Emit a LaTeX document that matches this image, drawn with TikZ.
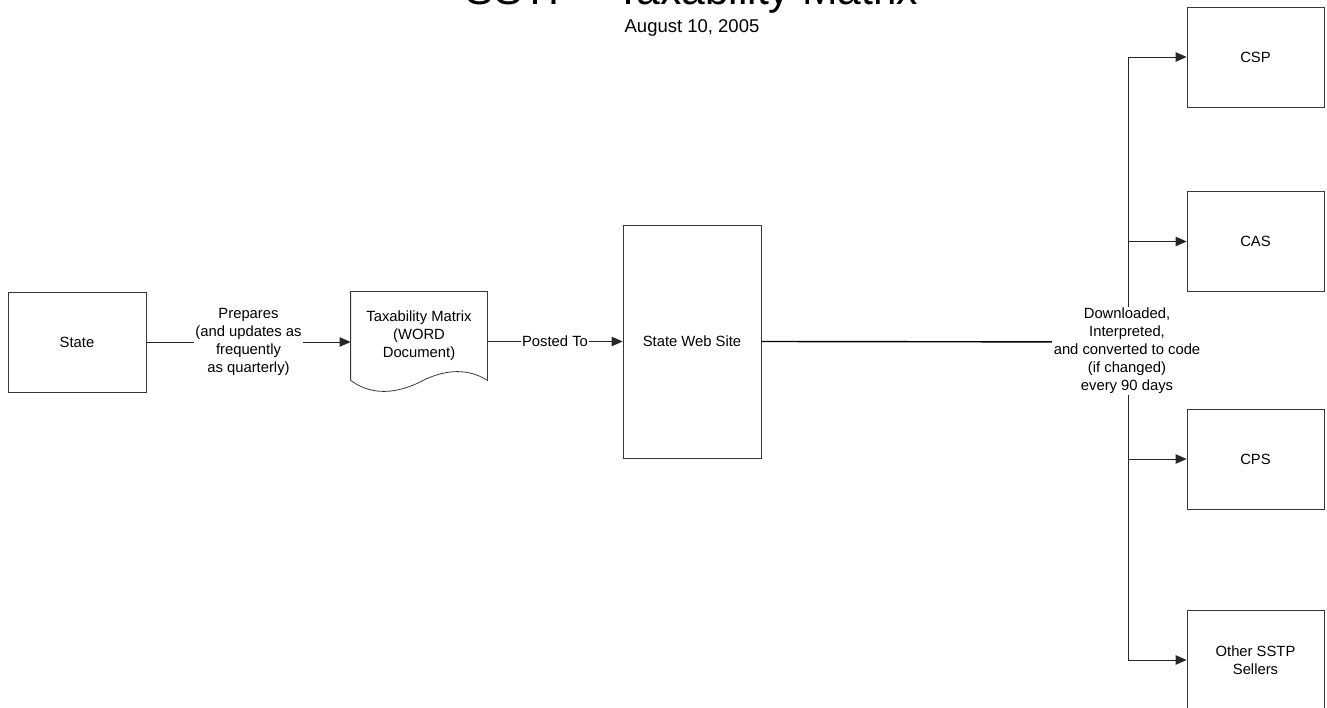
\documentclass[tikz,border=0pt]{standalone}
\usepackage{fontspec}
\setmainfont{Liberation Sans}
\usetikzlibrary{arrows.meta}
\begin{document}
\begin{tikzpicture}[x=1pt,y=-1pt,
  box/.style={draw=black!78, line width=0.8pt, minimum width=137pt, minimum height=100pt, inner sep=0pt, font=\fontsize{14.8}{18}\selectfont, align=center},
  conn/.style={draw=black!85, line width=0.8pt, -{Triangle[length=11pt,width=9.5pt]}},
  lbl/.style={fill=white, inner sep=1.5pt, font=\fontsize{14.8}{18}\selectfont, align=center}]
\useasboundingbox (0,0) rectangle (1327,708);
% title
\node[anchor=base, font=\fontsize{42.6}{50}\selectfont, inner sep=0pt] (title) at (692,5) {SSTP - Taxability Matrix};
\node[anchor=base, font=\fontsize{18.5}{22}\selectfont, inner sep=0pt] (date) at (692,33) {August 10, 2005};
% nodes
\node[box, minimum width=138pt] (state) at (77,342) {State};
\node[box, draw=none, minimum width=136pt, minimum height=88pt] (doc) at (419,336) {Taxability Matrix\\(WORD\\Document)};
\draw[black!78, line width=0.8pt] (doc.south west) -- (doc.north west) -- (doc.north east) -- (doc.south east)
  .. controls (465,366) and (440,371) .. (418,383)
  .. controls (390,396) and (368,393) .. (doc.south west);
\node[box, minimum width=138pt, minimum height=233pt] (web) at (692,341.5) {State Web Site};
\node[box] (csp) at (1255.5,57) {CSP};
\node[box] (cas) at (1255.5,241.5) {CAS};
\node[box] (cps) at (1255.5,459) {CPS};
\node[box] (oth) at (1255.5,660) {Other SSTP\\Sellers};
\coordinate (j) at (1128,342);
% connectors
\draw[conn] (state.east) -- node[lbl]{Prepares\\(and updates as\\frequently\\as quarterly)} (state.east -| doc.west);
\draw[conn] (doc.east |- web.west) -- node[lbl]{Posted To} (web.west);
\draw[line width=1.4pt, black] (web.east) -- (j);
\draw[conn] (j) |- (csp.west);
\draw[conn] (j) |- (cas.west);
\draw[conn] (j) |- (cps.west);
\draw[conn] (j) |- (oth.west);
\node[lbl] (dl) at (1127,351) {Downloaded,\\Interpreted,\\and converted to code\\(if changed)\\every 90 days};
\end{tikzpicture}
\end{document}
